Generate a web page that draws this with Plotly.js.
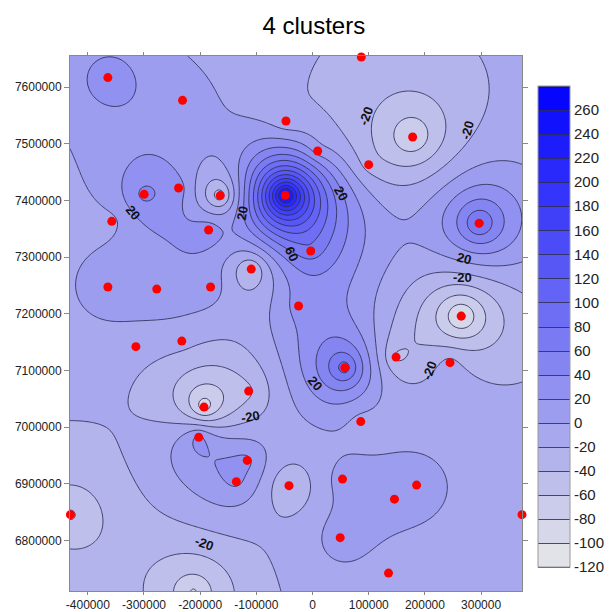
<!DOCTYPE html>
<html><head><meta charset="utf-8">
<script src="https://cdn.plot.ly/plotly-3.0.1.min.js"></script>
<style>html,body{margin:0;padding:0;background:#fff}</style>
</head><body>
<div id="chart" style="width:613px;height:612px"></div>
<script>
const sampleX = [-364300,-231400,-47300,86800,9200,178100,99900,-299700,-238500,-164300,-48400,-357300,-185000,296400,-3200,-109100,-364300,-277300,-181500,-24900,264600,-314400,-232700,57500,148600,244700,-193100,-113700,85800,-202600,-116200,-135600,-42000,53300,185200,145800,-430900,372800,49200,135200,-212000];
const sampleY = [7616600,7576500,7540000,7652900,7487100,7511800,7463100,7410800,7421900,7408500,7409000,7363100,7347800,7359600,7310800,7279000,7247300,7243700,7247300,7213800,7196100,7142100,7152000,7105100,7123800,7113900,7035600,7063800,7010000,6982200,6941600,6904100,6897000,6908600,6898000,6873300,6845900,6845900,6805300,6742900,6709400];
const sampleValue = [40,15,-15,-25,10,-85,-30,48,30,-55,270,-6,35,90,75,-45,18,16,14,30,-110,-12,-12,95,-45,-12,-95,-45,-8,28,26,26,-45,10,15,8,-65,-10,14,-10,-85];

const levelStart = -120, levelEnd = 280, levelStep = 20;
const colorbarTicks = [-120,-100,-80,-60,-40,-20,0,20,40,60,80,100,120,140,160,180,200,220,240,260];
const xTicks = [-400000,-300000,-200000,-100000,0,100000,200000,300000];
const yTicks = [6800000,6900000,7000000,7100000,7200000,7300000,7400000,7500000,7600000];
const xRange = [-431700, 372800];
const yRange = [6711300, 7654700];

// contour labels as drawn in the reference
const labelText  = ["20","20","60","-20","-20","20","20","-20","20","-20","-20","-20"];
const labelX     = [-319700,-125500,-37300,95100,275100,51000,269900,266400,5100,208100,-109700,-192600];
const labelY     = [7379000,7377200,7306700,7550100,7523700,7412500,7297900,7264400,7077400,7100400,7019200,6795200];
const labelAngle = [50,-80,65,-70,-75,60,15,0,50,-70,-10,20];

// simple kriging with exponential covariance
const meanValue = -15, rangeL = 78000;
function cov(d){ return Math.exp(-d/rangeL); }
const n = sampleX.length;
const K = [], rhs = [];
for (let i=0;i<n;i++){ K.push([]); for (let j=0;j<n;j++){ K[i].push(cov(Math.hypot(sampleX[i]-sampleX[j], sampleY[i]-sampleY[j]))); } rhs.push(sampleValue[i]-meanValue); }
for (let c=0;c<n;c++){
  let p=c; for (let r=c+1;r<n;r++) if (Math.abs(K[r][c])>Math.abs(K[p][c])) p=r;
  [K[c],K[p]]=[K[p],K[c]]; [rhs[c],rhs[p]]=[rhs[p],rhs[c]];
  for (let r=c+1;r<n;r++){ const f=K[r][c]/K[c][c]; for (let k=c;k<n;k++) K[r][k]-=f*K[c][k]; rhs[r]-=f*rhs[c]; }
}
const w = new Array(n).fill(0);
for (let r=n-1;r>=0;r--){ let s=rhs[r]; for (let k=r+1;k<n;k++) s-=K[r][k]*w[k]; w[r]=s/K[r][r]; }

const nx=200, ny=230;
const gx=[], gy=[], gz=[];
for (let i=0;i<nx;i++) gx.push(xRange[0]+(xRange[1]-xRange[0])*i/(nx-1));
for (let j=0;j<ny;j++) gy.push(yRange[0]+(yRange[1]-yRange[0])*j/(ny-1));
for (let j=0;j<ny;j++){ const row=[]; for (let i=0;i<nx;i++){ let s=meanValue; for (let k=0;k<n;k++) s+=w[k]*cov(Math.hypot(gx[i]-sampleX[k], gy[j]-sampleY[k])); row.push(s);} gz.push(row); }

const font = "Liberation Sans, Arial, sans-serif";
const traces = [
  { type:'contour', x:gx, y:gy, z:gz, autocontour:false,
    contours:{start:levelStart, end:levelEnd, size:levelStep, coloring:'fill', showlines:true},
    zmin:levelStart, zmax:levelEnd,
    colorscale:[[0,'rgb(232,232,232)'],[1,'rgb(0,0,255)']],
    line:{color:'rgba(45,45,85,0.85)', width:1, smoothing:1},
    hoverinfo:'skip',
    colorbar:{x:1.035, xanchor:'left', y:0.4944, yanchor:'middle', yref:'paper',
      thickness:32, thicknessmode:'pixels', len:481, lenmode:'pixels',
      tickvals:colorbarTicks, ticktext:colorbarTicks.map(String), ticks:'',
      tickfont:{family:font, size:15, color:'#222'}, outlinewidth:1, outlinecolor:'#999',
      xpad:0, ypad:0}
  },
  { type:'scatter', mode:'markers', x:sampleX, y:sampleY, cliponaxis:false,
    marker:{color:'rgb(255,0,0)', size:9}, hoverinfo:'skip', showlegend:false }
];
const annotations = labelText.map((t,i)=>({x:labelX[i], y:labelY[i], text:t, showarrow:false,
  textangle:labelAngle[i], font:{family:font, size:13, color:'#111', weight:'bold'}}));

const layout = {
  width:613, height:612, margin:{l:70, r:88, t:56, b:21},
  paper_bgcolor:'#fff', plot_bgcolor:'#fff', showlegend:false,
  title:{text:'4 clusters', x:0.512, xanchor:'center', xref:'container', y:0.958, yanchor:'middle', font:{family:font, size:24, color:'#000'}},
  xaxis:{range:xRange, tickvals:xTicks, ticktext:xTicks.map(String), ticks:'outside', ticklen:3, tickcolor:'#888',
    showline:true, linecolor:'#888', mirror:'ticks', showgrid:false, zeroline:false,
    tickfont:{family:font, size:12, color:'#222'}},
  yaxis:{range:yRange, tickvals:yTicks, ticktext:yTicks.map(String), ticks:'outside', ticklen:5, tickcolor:'#888',
    showline:true, linecolor:'#888', mirror:'ticks', showgrid:false, zeroline:false,
    tickfont:{family:font, size:12, color:'#222'}},
  annotations:annotations
};
Plotly.newPlot('chart', traces, layout, {displayModeBar:false, staticPlot:true});
</script>
</body></html>
